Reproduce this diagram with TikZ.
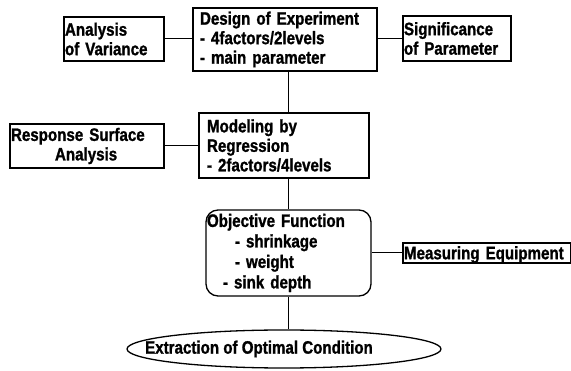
\documentclass[tikz,border=0pt]{standalone}
\usepackage{fontspec}
\setmainfont{Liberation Sans}[FakeStretch=0.84,FakeBold=1.2]
\usepackage{tikz}
\usetikzlibrary{shapes.geometric,calc}
\tikzset{
  ftxt/.style={font=\fontsize{18}{19.5}\selectfont\bfseries},
  fbox/.style={ftxt, rectangle, draw=black, line width=1.3pt,
               align=left, inner ysep=0pt},
  fround/.style={fbox, rounded corners=12pt},
  foval/.style={ftxt, ellipse, draw=black, line width=1.3pt, inner sep=0pt},
  flink/.style={black, line width=1pt},
}

\begin{document}
\begin{tikzpicture}[x=1pt,y=-1pt]

  \useasboundingbox (0,0) rectangle (571,371);

  % coluna central
  \node[fbox, text width=170pt, inner xsep=7pt, minimum height=63pt] (design) at (285,39.5)
       {Design of Experiment\\- 4factors/2levels\\- main parameter};
  \node[fbox, text width=154pt, inner xsep=8pt, minimum height=65pt] (model) at (284,145.5)
       {Modeling by\\Regression\\- 2factors/4levels};
  \node[fround, font=\fontsize{18}{20.5}\selectfont\bfseries, text width=163pt,
        inner xsep=1pt, minimum height=86pt] (obj) at (288.5,253)
       {Objective Function\\\hspace*{28pt}- shrinkage\\\hspace*{28pt}- weight\\\hspace*{16pt}- sink depth};
  \node[foval, minimum width=314pt, minimum height=38pt] (extract) at (284,349)
       {\makebox[0pt]{Extraction of Optimal Condition\hspace{50pt}}};

  % caixas laterais
  \node[fbox, text width=98pt, inner xsep=1pt, minimum height=44pt] (anova) at (114,39)
       {Analysis\\of Variance};
  \node[fbox, text width=106pt, inner xsep=1pt, minimum height=45pt] (signif) at (457,38.5)
       {Significance\\of Parameter};
  \node[fbox, text width=152pt, inner xsep=1pt, minimum height=44pt] (rsa) at (87,146)
       {Response Surface\\\hspace*{44pt}Analysis};
  \node[fbox, text width=166pt, inner xsep=1pt, minimum height=20pt,
        text height=12.5pt, text depth=0pt] (meas) at (487,253)
       {Measuring Equipment};

  % ligações
  \draw[flink] (design.south -| obj.north) -- (model.north -| obj.north);
  \draw[flink] (model.south -| obj.north) -- (obj.north);
  \draw[flink] (obj.south) -- (obj.south |- extract.north);
  \draw[flink] (anova.east) -- (anova.east -| design.west);
  \draw[flink] (signif.west) -- (signif.west -| design.east);
  \draw[flink] (rsa.east) -- (rsa.east -| model.west);
  \draw[flink] (meas.west) -- (meas.west -| obj.east);

\end{tikzpicture}
\end{document}
